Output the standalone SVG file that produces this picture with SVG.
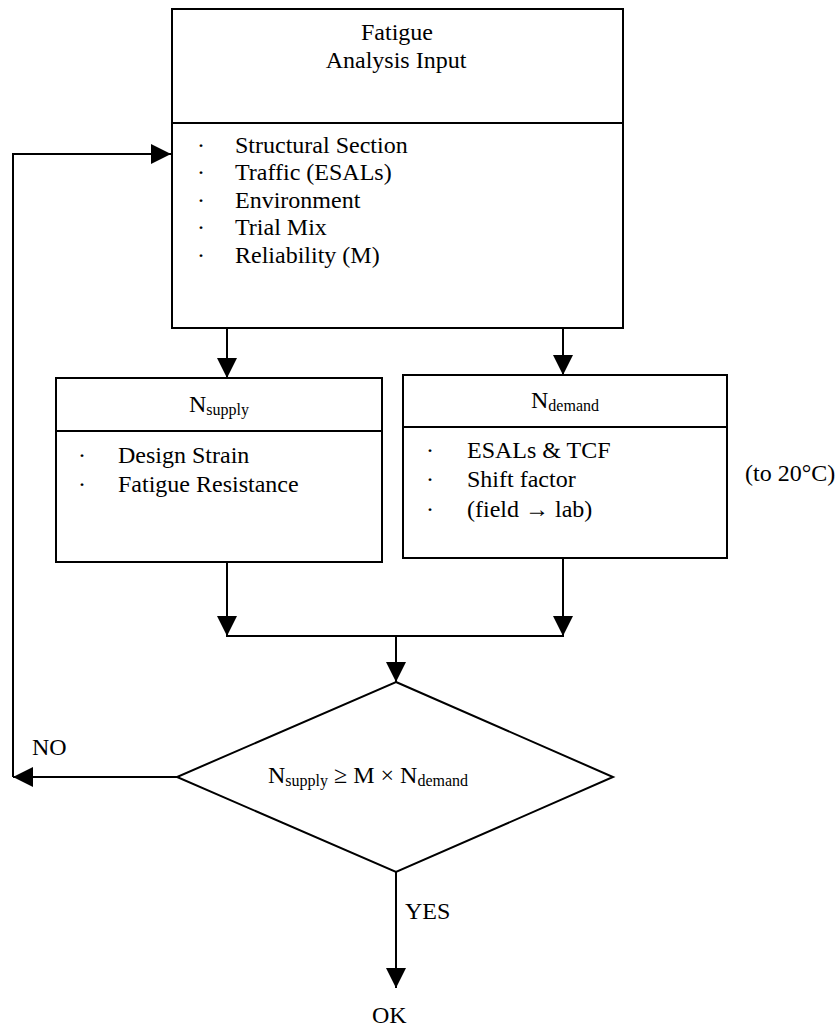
<svg xmlns="http://www.w3.org/2000/svg" width="839" height="1032" viewBox="0 0 839 1032">
<style>
.box{fill:#fff;stroke:#000;stroke-width:2}
.ln{fill:none;stroke:#000;stroke-width:2}
text{font-family:"Liberation Serif","Times New Roman",serif;font-size:24px;fill:#000}
.sub{font-size:16px}
.c{text-anchor:middle}
</style>
<defs>
<marker id="ah" viewBox="0 0 20 20" refX="20" refY="10" markerWidth="20" markerHeight="20" markerUnits="userSpaceOnUse" orient="auto">
<path d="M0,0 L20,10 L0,20 Z" fill="#000"/>
</marker>
</defs>
<g id="input">
<rect class="box" x="172" y="9" width="451" height="319"/>
<line class="ln" x1="172" y1="123" x2="623" y2="123"/>
<text class="c" x="397" y="40">Fatigue</text>
<text class="c" x="396" y="68">Analysis Input</text>
<text x="197" y="153">·</text><text x="235" y="153">Structural Section</text>
<text x="197" y="180">·</text><text x="235" y="180">Traffic (ESALs)</text>
<text x="197" y="208">·</text><text x="235" y="208">Environment</text>
<text x="197" y="235">·</text><text x="235" y="235">Trial Mix</text>
<text x="197" y="263">·</text><text x="235" y="263">Reliability (M)</text>
</g>
<g id="supply">
<rect class="box" x="56" y="378" width="326" height="184"/>
<line class="ln" x1="56" y1="431" x2="382" y2="431"/>
<text class="c" x="219" y="412">N<tspan class="sub" dy="3">supply</tspan></text>
<text x="78" y="463">·</text><text x="118" y="463">Design Strain</text>
<text x="78" y="492">·</text><text x="118" y="492">Fatigue Resistance</text>
</g>
<g id="demand">
<rect class="box" x="403" y="375" width="324" height="183"/>
<line class="ln" x1="403" y1="427" x2="727" y2="427"/>
<text class="c" x="565" y="408">N<tspan class="sub" dy="3">demand</tspan></text>
<text x="426" y="458">·</text><text x="467" y="458">ESALs &amp; TCF</text>
<text x="426" y="487">·</text><text x="467" y="487">Shift factor</text>
<text x="426" y="517">·</text><text x="467" y="517">(field → lab)</text>
</g>
<g id="note">
<text x="745" y="481">(to 20°C)</text>
</g>
<g id="decision">
<polygon class="box" points="396,682 613,777 396,872 177,777"/>
<text x="268" y="783">N<tspan class="sub" dy="3">supply</tspan><tspan dy="-3"> ≥ M × N</tspan><tspan class="sub" dy="3">demand</tspan></text>
</g>
<g id="ok">
<text x="372" y="1023">OK</text>
</g>
<g id="connectors">
<line class="ln" x1="227" y1="328" x2="227" y2="378" marker-end="url(#ah)"/>
<line class="ln" x1="563" y1="328" x2="563" y2="375" marker-end="url(#ah)"/>
<line class="ln" x1="227" y1="562" x2="227" y2="636" marker-end="url(#ah)"/>
<line class="ln" x1="563" y1="558" x2="563" y2="636" marker-end="url(#ah)"/>
<line class="ln" x1="226" y1="636" x2="564" y2="636"/>
<line class="ln" x1="396" y1="636" x2="396" y2="682" marker-end="url(#ah)"/>
<polyline class="ln" points="177,777 13,777" marker-end="url(#ah)"/>
<polyline class="ln" points="13,777 13,154 171,154" marker-end="url(#ah)"/>
<line class="ln" x1="396" y1="872" x2="396" y2="988" marker-end="url(#ah)"/>
<text x="32" y="755">NO</text>
<text x="405" y="919">YES</text>
</g>
</svg>
